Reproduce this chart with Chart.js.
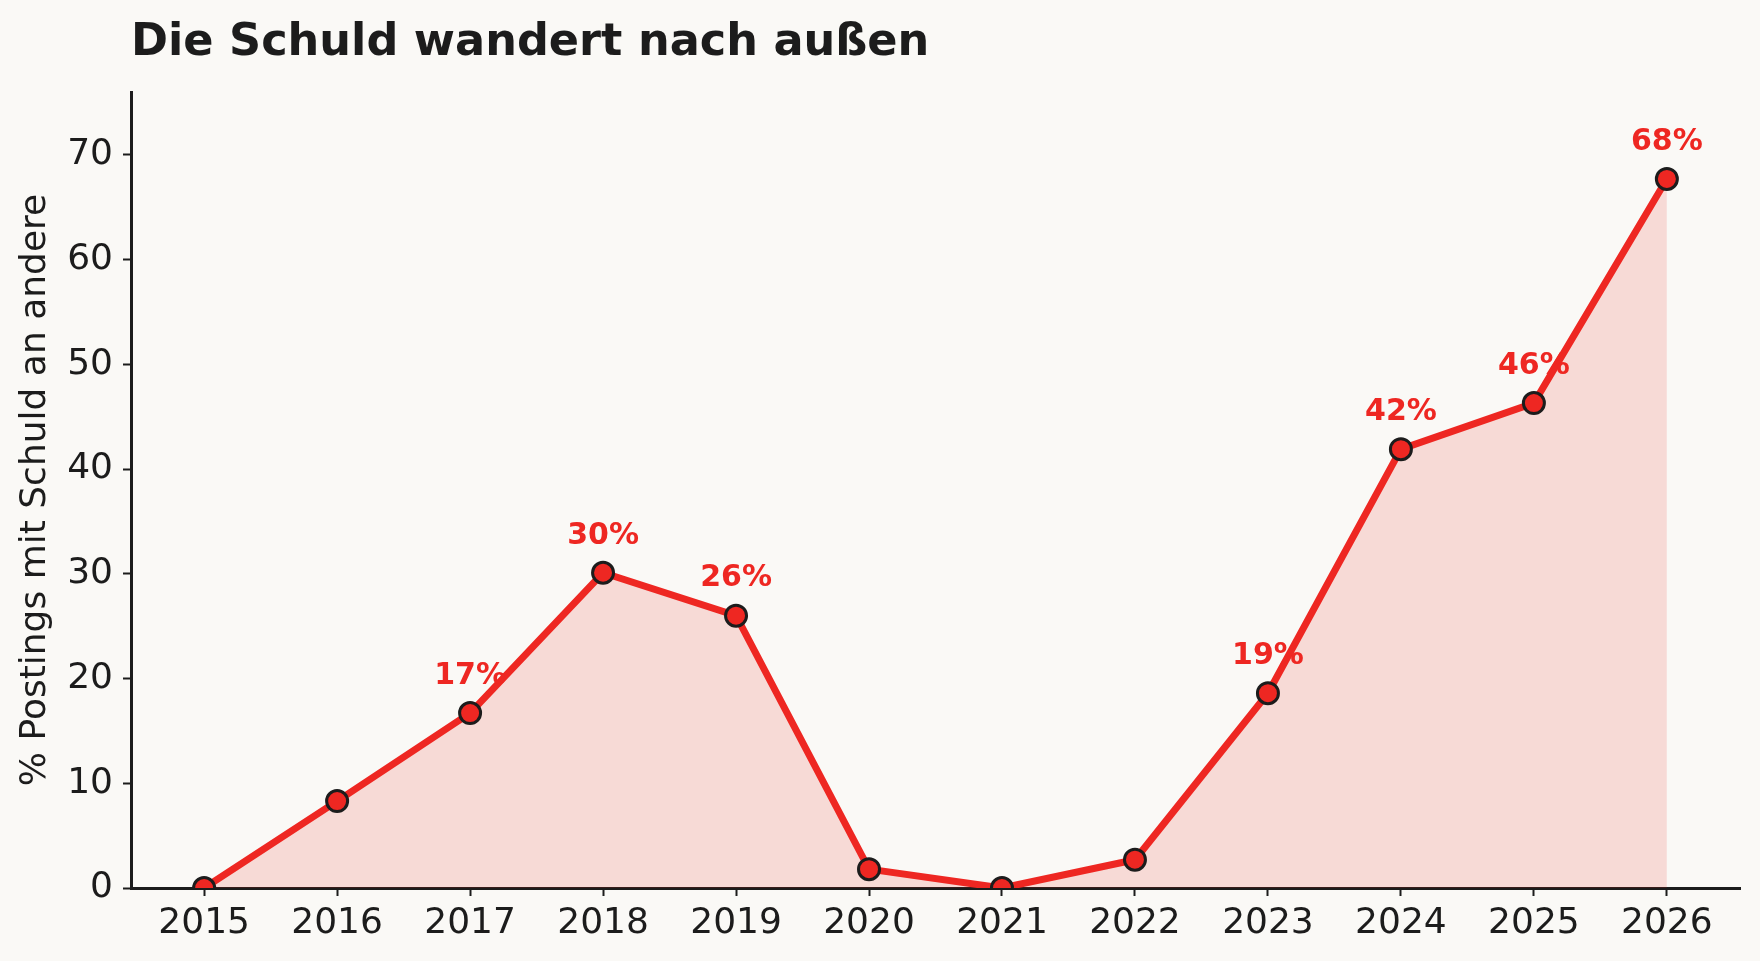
<!DOCTYPE html>
<html lang="de">
<head>
<meta charset="utf-8">
<title>Die Schuld wandert nach außen</title>
<script src="https://cdn.jsdelivr.net/npm/chart.js@4"></script>
<style>
  html, body { margin: 0; padding: 0; background: #faf9f6; }
  canvas { display: block; }
</style>
</head>
<body>
<canvas id="chart" width="1760" height="961"></canvas>
<script>
const years = [2015, 2016, 2017, 2018, 2019, 2020, 2021, 2022, 2023, 2024, 2025, 2026];
const shares = [0, 8.3, 16.7, 30.1, 26.0, 1.8, 0, 2.7, 18.6, 41.9, 46.3, 67.7];
const yTicks = [0, 10, 20, 30, 40, 50, 60, 70];

const titleText = "Die Schuld wandert nach außen";
const yTitle = "% Postings mit Schuld an andere";

const red = "#ee2722";
const dark = "#1c1c1c";
const font = "'DejaVu Sans', sans-serif";

// Titel links buendig mit der y-Achse
const titlePlugin = {
  id: "leftTitle",
  afterDraw(chart) {
    const ctx = chart.ctx;
    ctx.save();
    ctx.font = "bold 44.6px " + font;
    ctx.fillStyle = dark;
    ctx.textBaseline = "alphabetic";
    ctx.textAlign = "left";
    ctx.fillText(titleText, chart.chartArea.left, 55);
    ctx.restore();
  }
};

// Prozentwerte ueber den Punkten (nur ab 10 %)
const valueLabels = {
  id: "valueLabels",
  afterDatasetsDraw(chart) {
    const ctx = chart.ctx;
    const meta = chart.getDatasetMeta(0);
    ctx.save();
    ctx.font = "bold 30px " + font;
    ctx.fillStyle = red;
    ctx.textAlign = "center";
    ctx.textBaseline = "middle";
    meta.data.forEach((pt, i) => {
      if (shares[i] < 10) return;
      ctx.fillText(Math.round(shares[i]) + "%", pt.x, pt.y - 37);
    });
    ctx.restore();
  }
};

const ctx = document.getElementById("chart").getContext("2d");

new Chart(ctx, {
  type: "line",
  data: {
    datasets: [{
      data: years.map((y, i) => ({ x: y, y: shares[i] })),
      borderColor: red,
      borderWidth: 7,
      backgroundColor: "rgba(238, 39, 34, 0.15)",
      fill: "origin",
      tension: 0,
      pointRadius: 10.5,
      pointHoverRadius: 10.5,
      pointBackgroundColor: red,
      pointBorderColor: dark,
      pointBorderWidth: 3,
      clip: 0
    }]
  },
  options: {
    responsive: false,
    animation: false,
    layout: { padding: { top: 92, right: 20, left: 0, bottom: 0 } },
    plugins: {
      legend: { display: false },
      tooltip: { enabled: false }
    },
    scales: {
      x: {
        type: "linear",
        min: 2014.45,
        max: 2026.55,
        afterFit: s => { s.height = 73; },
        afterBuildTicks: s => { s.ticks = years.map(v => ({ value: v })); },
        grid: { drawOnChartArea: false, drawTicks: true, tickLength: 8, tickWidth: 2, tickColor: dark },
        border: { color: dark, width: 3 },
        ticks: {
          color: dark,
          font: { family: font, size: 36 },
          padding: 6,
          maxRotation: 0,
          autoSkip: false,
          callback: v => String(v)
        }
      },
      y: {
        min: 0,
        max: 76,
        afterFit: s => { s.width = 131; },
        afterBuildTicks: s => { s.ticks = yTicks.map(v => ({ value: v })); },
        grid: { drawOnChartArea: false, drawTicks: true, tickLength: 8, tickWidth: 2, tickColor: dark },
        border: { color: dark, width: 3 },
        ticks: {
          color: dark,
          font: { family: font, size: 36 },
          padding: 10
        },
        title: {
          display: true,
          text: yTitle,
          color: dark,
          font: { family: font, size: 36 },
          padding: { top: 14, bottom: 0 }
        }
      }
    }
  },
  plugins: [titlePlugin, valueLabels]
});
</script>
</body>
</html>
